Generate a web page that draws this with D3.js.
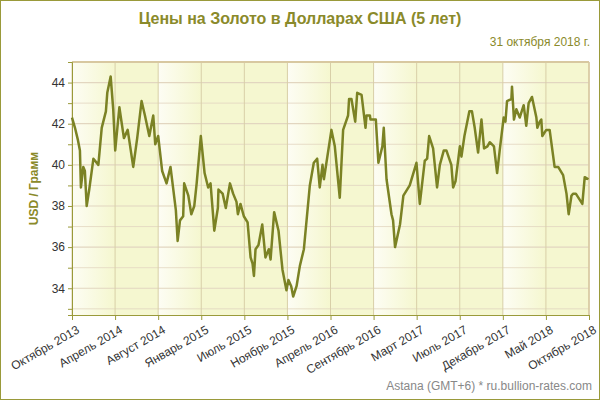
<!DOCTYPE html><html><head><meta charset="utf-8"><script src="https://cdn.jsdelivr.net/npm/d3@7"></script>
<style>body{margin:0}svg{font-family:Arial,"Liberation Sans",sans-serif}</style></head><body><svg id="c" width="600" height="400"></svg><script>
const weeks=[0,1.5,3,4,4.5,5.7,6.5,7.4,8.7,10.8,13.3,15,17.1,17.8,19.5,20.8,21.8,23.9,26.2,28.1,30.9,32.9,35.1,36.8,39,41,42,43.5,45.5,47.7,49.7,52.4,53.3,54.5,56.1,56.6,58.7,60.2,61.7,62.9,65,66.9,68.7,69.9,71.8,73.6,73.9,76,77.6,79.7,81.3,83,83.7,85,86.7,88.6,90.1,91.1,91.8,92.6,94.1,96,97.6,99.3,100.2,102,104.2,106.2,108.2,109.2,110.6,111.6,113.3,115,117,120,122,123.7,125,126.4,127.1,130.9,132.6,135.1,136.8,139.3,139.8,141,142.9,143.9,146.1,148.1,148.6,150.3,150.6,153.3,154.6,156.6,157.3,158.7,161.2,162,163,165.5,167.2,170.4,173.8,175.5,178,179.2,180.2,182.2,184.2,185.6,187.6,188.9,191.4,192.3,193.5,195.7,196.5,198,200.5,201.8,203.2,204.9,206.6,207.9,209.6,210.8,212.9,214.5,215.8,217.8,218.7,219.5,221.7,222,223,224.2,225.9,227.9,229.2,230.4,232.1,234.3,234.8,236,236.8,237.3,239.3,241,243.5,245.3,247.8,249.5,250.6,252,252.8,254.2,257.5,258.7,260.6];
const prices=[42.3,41.8,41.2,40.7,38.9,39.9,39.7,38.0,38.8,40.3,40.0,41.8,42.6,43.5,44.3,42.7,40.7,42.8,41.3,41.7,39.9,41.3,43.1,42.4,41.4,42.4,41.0,41.4,39.7,39.1,39.9,37.8,36.3,37.3,37.5,39.1,38.5,37.6,38.0,39.1,41.4,39.6,38.9,39.1,36.8,37.9,38.8,38.6,37.9,39.1,38.6,38.2,37.6,38.1,37.5,37.2,35.5,35.2,34.6,35.9,36.1,37.1,35.5,35.9,35.4,37.7,36.8,34.9,33.9,34.4,34.1,33.6,34.1,35.1,35.9,39.0,40.1,40.3,38.9,40.0,39.3,41.7,40.9,38.4,41.7,42.4,43.2,43.2,42.1,43.5,43.4,41.8,42.4,42.4,42.2,42.2,40.1,40.9,41.8,39.3,37.6,37.3,36.0,37.1,38.5,39.0,40.1,38.1,40.2,40.3,41.4,40.8,38.9,40.0,40.7,40.7,40.0,38.9,39.2,40.9,40.4,41.4,42.6,42.6,41.8,40.6,42.2,40.8,40.9,41.1,40.9,39.6,40.7,42.3,42.1,43.1,43.2,43.8,42.2,42.7,42.3,42.9,41.9,43.0,43.3,42.3,41.8,42.1,42.2,41.4,41.7,41.7,39.9,39.9,39.5,38.6,37.6,38.5,38.6,38.6,38.1,39.4,39.3];
const xLabels=["Октябрь 2013","Апрель 2014","Август 2014","Январь 2015","Июль 2015","Ноябрь 2015","Апрель 2016","Сентябрь 2016","Март 2017","Июль 2017","Декабрь 2017","Май 2018","Октябрь 2018"];
const yTicks=[34,36,38,40,42,44];
const title="Цены на Золото в Долларах США (5 лет)", dateText="31 октября 2018 г.", yTitle="USD / Грамм", footer="Astana (GMT+6) * ru.bullion-rates.com";
const start=new Date(2013,9,31), end=new Date(2018,9,31);
const data=weeks.map((w,i)=>({d:new Date(start.getTime()+w*7*864e5),v:prices[i]}));
const L=72,R=589,T=62,B=315;
const svg=d3.select("#c");
svg.append("rect").attr("x",0.5).attr("y",0.5).attr("width",599).attr("height",399).attr("fill","#fff").attr("stroke","#9a9a3a");
const x=d3.scaleTime().domain([start,end]).range([L,R]);
const y=d3.scaleLinear().domain([32.7,45]).range([B,T]);
const xl=d3.scalePoint().domain(xLabels).range([L,R]);
const defs=svg.append("defs");
const g=defs.append("linearGradient").attr("id","bg").attr("x1",0).attr("x2",1);
g.append("stop").attr("offset",0).attr("stop-color","#fdfdf4");g.append("stop").attr("offset",1).attr("stop-color","#f5f7cf");
const step=xl.step();
svg.append("rect").attr("x",L).attr("y",T).attr("width",R-L).attr("height",B-T).attr("fill","#f5f7d0");
[0,2,5,7,10].forEach(i=>svg.append("rect").attr("x",xl(xLabels[i])).attr("y",T).attr("width",step).attr("height",B-T).attr("fill","url(#bg)"));
d3.range(33,45).forEach(v=>svg.append("line").attr("x1",L).attr("x2",R).attr("y1",y(v)).attr("y2",y(v)).attr("stroke","#e2d6c0").attr("stroke-width",v%2?0.8:1.2));
xLabels.forEach(l=>svg.append("line").attr("x1",xl(l)).attr("x2",xl(l)).attr("y1",T).attr("y2",B).attr("stroke","#d8cfa8"));
svg.append("line").attr("x1",L).attr("x2",R).attr("y1",T).attr("y2",T).attr("stroke","#d8c8a0").attr("stroke-width",2);
svg.append("line").attr("x1",R).attr("x2",R).attr("y1",T).attr("y2",B).attr("stroke","#d8c8a0").attr("stroke-width",1.5);
// axes
const ya=svg.append("g").attr("transform",`translate(${L},0)`).call(d3.axisLeft(y).tickValues(d3.range(33,45)).tickSize(4).tickFormat(d=>yTicks.includes(d)?d:""));
ya.select(".domain").attr("stroke","#9a9a3a");ya.selectAll(".tick line").attr("stroke","#9a9a3a");
ya.selectAll("text").attr("font-size",12).attr("fill","#333").attr("font-family","Arial,'Liberation Sans'");
const xa=svg.append("g").attr("transform",`translate(0,${B})`).call(d3.axisBottom(xl).tickSize(5).tickFormat(""));
xa.select(".domain").attr("stroke","#9a9a3a");xa.selectAll(".tick line").attr("stroke","#9a9a3a");
xLabels.forEach(l=>svg.append("text").attr("transform",`translate(${xl(l)+4},${B+10}) rotate(-30)`).attr("text-anchor","end").attr("dy","0.7em").attr("font-size",12).attr("fill","#333").text(l));
svg.append("path").datum(data).attr("fill","none").attr("stroke","#7b8224").attr("stroke-width",2.5).attr("stroke-linejoin","round")
 .attr("d",d3.line().x(d=>x(d.d)).y(d=>y(d.v)));
svg.append("text").attr("x",300).attr("y",24).attr("text-anchor","middle").attr("font-size",16).attr("font-weight","bold").attr("fill","#8a8a2a").text(title);
svg.append("text").attr("x",590).attr("y",46).attr("text-anchor","end").attr("font-size",12).attr("fill","#8a8a2a").text(dateText);
svg.append("text").attr("transform",`translate(38,${(T+B)/2}) rotate(-90)`).attr("text-anchor","middle").attr("font-size",12).attr("font-weight","bold").attr("fill","#8a8a2a").text(yTitle);
svg.append("text").attr("x",592).attr("y",390).attr("text-anchor","end").attr("font-size",12).attr("fill","#888").text(footer);
</script></body></html>
